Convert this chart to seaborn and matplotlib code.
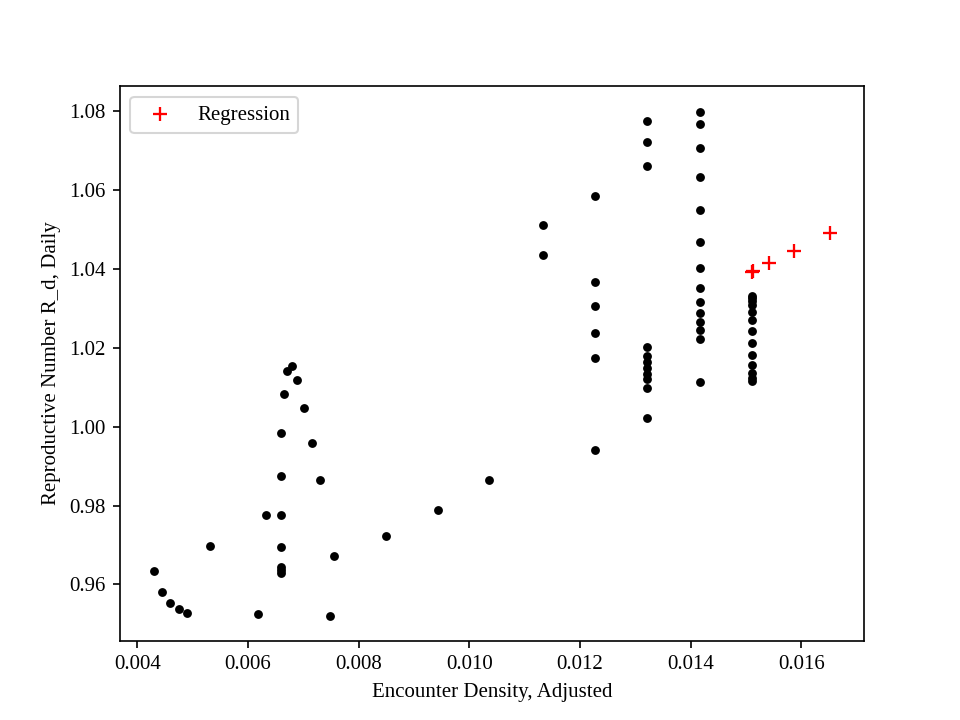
import numpy as np
import pandas as pd
import matplotlib
matplotlib.use("Agg")
import matplotlib.pyplot as plt
import seaborn as sns

# observed points: encounter density vs daily reproductive number
density = [
    0.00430, 0.00445, 0.00459, 0.00475, 0.00490, 0.00531, 0.00618, 0.00633,
    0.00660, 0.00660, 0.00660, 0.00660, 0.00660, 0.00660, 0.00660,
    0.00666, 0.00671, 0.00680, 0.00689, 0.00702, 0.00716, 0.00731, 0.00755, 0.00748,
    0.00850, 0.00943, 0.01036,
    0.01133, 0.01133,
    0.01227, 0.01227, 0.01227, 0.01227, 0.01227, 0.01227,
    0.01321, 0.01321, 0.01321, 0.01321, 0.01321, 0.01321, 0.01321, 0.01321,
    0.01321, 0.01321, 0.01321,
    0.01417, 0.01417, 0.01417, 0.01417, 0.01417, 0.01417, 0.01417, 0.01417,
    0.01417, 0.01417, 0.01417, 0.01417, 0.01417, 0.01417,
    0.01511, 0.01511, 0.01511, 0.01511, 0.01511, 0.01511, 0.01511, 0.01511,
    0.01511, 0.01511, 0.01511, 0.01511, 0.01511,
]
r_daily = [
    0.9633, 0.9580, 0.9552, 0.9537, 0.9527, 0.9697, 0.9524, 0.9775,
    0.9775, 0.9694, 0.9645, 0.9636, 0.9628, 0.9874, 0.9984,
    1.0082, 1.0140, 1.0153, 1.0118, 1.0047, 0.9958, 0.9866, 0.9671, 0.9521,
    0.9722, 0.9788, 0.9864,
    1.0511, 1.0436,
    1.0586, 1.0368, 1.0305, 1.0238, 1.0173, 0.9942,
    1.0774, 1.0722, 1.0660, 1.0201, 1.0179, 1.0164, 1.0149, 1.0134,
    1.0121, 1.0099, 1.0022,
    1.0799, 1.0767, 1.0707, 1.0632, 1.0549, 1.0469, 1.0402, 1.0352,
    1.0315, 1.0288, 1.0265, 1.0244, 1.0222, 1.0113,
    1.0331, 1.0326, 1.0318, 1.0308, 1.0290, 1.0270, 1.0242, 1.0211,
    1.0183, 1.0156, 1.0135, 1.0123, 1.0115,
]

# regression predictions
reg_density = [0.01510, 0.01512, 0.01542, 0.01587, 0.01652]
reg_r = [1.0392, 1.0396, 1.0415, 1.0446, 1.0491]

sns.set_style("ticks")
plt.rcParams["font.family"] = ["Liberation Serif", "DejaVu Serif"]
plt.rcParams["font.size"] = 10
plt.rcParams["text.color"] = "black"
plt.rcParams["axes.labelcolor"] = "black"
plt.rcParams["xtick.color"] = "black"
plt.rcParams["ytick.color"] = "black"

obs = pd.DataFrame({"density": density, "r": r_daily})
reg = pd.DataFrame({"density": reg_density, "r": reg_r})

fig, ax = plt.subplots(figsize=(6.4, 4.8), dpi=150)
sns.scatterplot(data=obs, x="density", y="r", color="black", s=18,
                linewidth=0, ax=ax)
sns.scatterplot(data=reg, x="density", y="r", color="red", marker="+",
                s=48, linewidth=1.1, label="Regression", ax=ax)

ax.set_xticks([0.004, 0.006, 0.008, 0.010, 0.012, 0.014, 0.016])
ax.set_xticklabels(["0.004", "0.006", "0.008", "0.010", "0.012", "0.014", "0.016"])
ax.set_yticks([0.96, 0.98, 1.00, 1.02, 1.04, 1.06, 1.08])
ax.set_yticklabels(["0.96", "0.98", "1.00", "1.02", "1.04", "1.06", "1.08"])
ax.set_xlabel("Encounter Density, Adjusted")
ax.set_ylabel("Reproductive Number R_d, Daily")
for s in ax.spines.values():
    s.set_visible(True)
    s.set_color("black")
ax.tick_params(colors="black")
ax.legend(loc="upper left", frameon=True)

fig.subplots_adjust(left=0.125, right=0.9, bottom=0.11, top=0.88)
fig.savefig("out.png", dpi=150)
plt.close(fig)
